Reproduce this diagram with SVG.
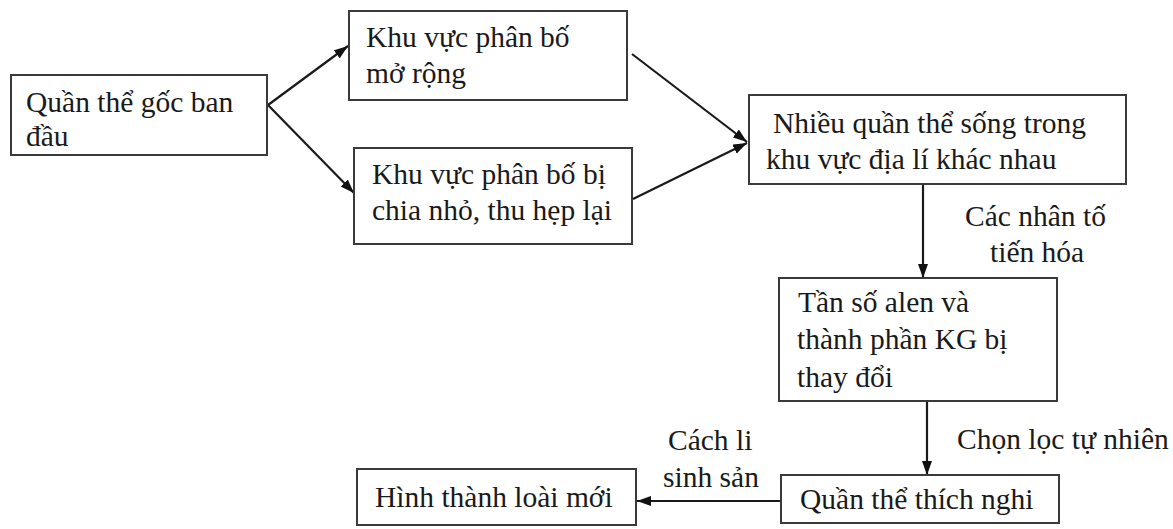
<svg xmlns="http://www.w3.org/2000/svg" width="1173" height="529" viewBox="0 0 1173 529" font-family="'Liberation Serif', 'Times New Roman', Times, serif">
<defs>
<marker id="ah" viewBox="0 0 14 10" refX="14" refY="5" markerWidth="14" markerHeight="10" markerUnits="userSpaceOnUse" orient="auto">
<path d="M0,0 L14,5 L0,10 Z" fill="#111"/>
</marker>
<style>
.box{fill:#fff;stroke:#3a3a3a;stroke-width:2}
.t{font-family:'Liberation Serif', 'Times New Roman', Times, serif;font-size:29.5px;fill:#1a1a1a}
.c{fill:none;stroke:#1a1a1a;stroke-width:2.2}
</style>
</defs>
<rect width="1173" height="529" fill="#fff"/>
<g id="connectors">
<line class="c" x1="268" y1="105" x2="348" y2="46" marker-end="url(#ah)"/>
<line class="c" x1="268" y1="105" x2="354" y2="193" marker-end="url(#ah)"/>
<line class="c" x1="632" y1="54" x2="747" y2="142" marker-end="url(#ah)"/>
<line class="c" x1="633" y1="199" x2="747" y2="143" marker-end="url(#ah)"/>
<line class="c" x1="923" y1="184" x2="923" y2="278" marker-end="url(#ah)"/>
<line class="c" x1="927" y1="401" x2="927" y2="475" marker-end="url(#ah)"/>
<line class="c" x1="781" y1="501" x2="637" y2="501" marker-end="url(#ah)"/>
<text class="t" x="965" y="226">Các nhân tố</text>
<text class="t" x="990" y="262">tiến hóa</text>
<text class="t" x="957" y="449">Chọn lọc tự nhiên</text>
<text class="t" x="668" y="450">Cách li</text>
<text class="t" x="663" y="487">sinh sản</text>
</g>
<g id="n1">
<rect class="box" x="11" y="75" width="256" height="80"/>
<text class="t" x="26" y="112">Quần thể gốc ban</text>
<text class="t" x="26" y="146">đầu</text>
</g>
<g id="n2">
<rect class="box" x="349" y="11" width="278" height="89"/>
<text class="t" x="366" y="47">Khu vực phân bố</text>
<text class="t" x="366" y="83">mở rộng</text>
</g>
<g id="n3">
<rect class="box" x="354" y="148" width="278" height="96"/>
<text class="t" x="372" y="184">Khu vực phân bố bị</text>
<text class="t" x="372" y="220">chia nhỏ, thu hẹp lại</text>
</g>
<g id="n4">
<rect class="box" x="749" y="95" width="377" height="89"/>
<text class="t" x="773" y="133">Nhiều quần thể sống trong</text>
<text class="t" x="766" y="169">khu vực địa lí khác nhau</text>
</g>
<g id="n5">
<rect class="box" x="779" y="278" width="278" height="123"/>
<text class="t" x="798" y="312">Tần số alen và</text>
<text class="t" x="797" y="349">thành phần KG bị</text>
<text class="t" x="797" y="387">thay đổi</text>
</g>
<g id="n6">
<rect class="box" x="781" y="475" width="278" height="48"/>
<text class="t" x="800" y="509">Quần thể thích nghi</text>
</g>
<g id="n7">
<rect class="box" x="357" y="469" width="279" height="56"/>
<text class="t" x="375" y="507">Hình thành loài mới</text>
</g>
</svg>
